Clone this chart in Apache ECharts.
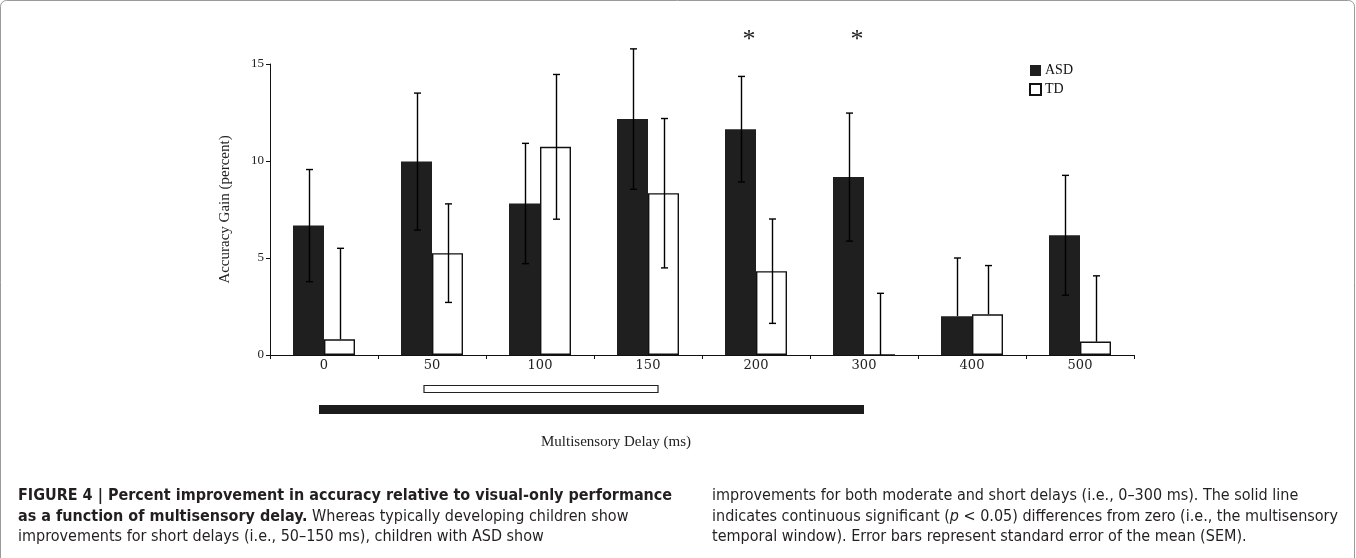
<!DOCTYPE html>
<html>
<head>
<meta charset="utf-8">
<script src="https://cdn.jsdelivr.net/npm/echarts@6/dist/echarts.min.js"></script>
<style>
html,body{margin:0;padding:0;background:#fff;}
#chart{width:1356px;height:558px;}
</style>
</head>
<body>
<div id="chart"></div>
<script>
// ---- data ----
const categories = ['0', '50', '100', '150', '200', '300', '400', '500'];
const asdValues = [6.67, 9.97, 7.81, 12.16, 11.64, 9.17, 2.0, 6.17];
const asdSem    = [2.89, 3.53, 3.10, 3.62, 2.72, 3.30, 3.00, 3.09];
const tdValues  = [0.81, 5.25, 10.73, 8.34, 4.32, 0, 2.10, 0.69];
const tdSem     = [4.69, 2.54, 3.73, 3.85, 2.69, 3.18, 2.51, 3.39];
const yTicks = [0, 5, 10, 15];
const starDelays = ['200', '300'];
const tdWindow = ['50', '150'];
const asdWindow = ['0', '300'];
const seriesNames = ['ASD', 'TD'];
const xAxisTitle = 'Multisensory Delay (ms)';
const yAxisTitle = 'Accuracy Gain (percent)';

const serif = "'Liberation Serif', 'Times New Roman', serif";
const cond = "'DejaVu Sans Condensed', 'Liberation Sans Narrow', 'Roboto Condensed', 'DejaVu Sans', sans-serif";
const BAR_W = 31;
const CAP_SIZE = 16;

function errRender(offset) {
  return function (params, api) {
    const idx = api.value(0), v = api.value(1), se = api.value(2);
    const top = api.coord([idx, v + se]);
    const hasLow = v - se >= 0;
    const bot = api.coord([idx, hasLow ? v - se : v]);
    const x = Math.round(top[0] + offset) + 0.5;
    const st = { stroke: '#000', lineWidth: 1.4 };
    const ch = [
      { type: 'line', shape: { x1: x, y1: top[1], x2: x, y2: bot[1] }, style: st },
      { type: 'line', shape: { x1: x - 3.5, y1: top[1], x2: x + 3.5, y2: top[1] }, style: st }
    ];
    if (hasLow) ch.push({ type: 'line', shape: { x1: x - 3.5, y1: bot[1], x2: x + 3.5, y2: bot[1] }, style: st });
    return { type: 'group', children: ch };
  };
}

function windowRender(params, api) {
  const a = api.coord([api.value(0), 0]);
  const b = api.coord([api.value(1), 0]);
  const hollow = api.value(2) === 1;
  if (hollow) {
    return { type: 'rect', shape: { x: a[0] - 8, y: a[1] + 30.5, width: b[0] - a[0] + 18, height: 7 },
      style: { fill: '#fff', stroke: '#222', lineWidth: 1.2 } };
  }
  return { type: 'rect', shape: { x: a[0] - 5, y: a[1] + 50, width: b[0] - a[0] + 5, height: 9 },
    style: { fill: '#1c1c1c' } };
}

function starRender(params, api) {
  const p = api.coord([api.value(0), yTicks[yTicks.length - 1]]);
  return { type: 'text', x: p[0] - 7, y: p[1] - 24, style: {
    text: '*', font: "26px 'Liberation Serif', serif", fill: '#222', align: 'center', verticalAlign: 'middle' } };
}

const chart = echarts.init(document.getElementById('chart'), null, { renderer: 'canvas' });

const richB = {
  b: { fontFamily: cond, fontSize: CAP_SIZE, fontWeight: 'bold', fill: '#231f20' },
  r: { fontFamily: cond, fontSize: CAP_SIZE, fill: '#231f20' },
  i: { fontFamily: cond, fontSize: CAP_SIZE, fontStyle: 'italic', fill: '#231f20' }
};
function cap(x, y, text, bold) {
  return { type: 'text', x: x, y: y, silent: true, style: {
    text: text, fill: '#231f20', fontFamily: cond, fontSize: CAP_SIZE,
    fontWeight: bold ? 'bold' : 'normal', verticalAlign: 'middle', align: 'left', rich: richB } };
}

chart.setOption({
  animation: false,
  grid: { left: 270, right: 222, top: 64, bottom: 203, containLabel: false },
  legend: {
    data: seriesNames, orient: 'vertical', left: 1029, top: 63.5, padding: 0,
    itemWidth: 11, itemHeight: 11, itemGap: 5, icon: 'rect',
    textStyle: { fontFamily: serif, fontSize: 14, color: '#111', lineHeight: 14, padding: [0, 0, 0, -1] }
  },
  xAxis: {
    type: 'category', data: categories,
    axisLine: { lineStyle: { color: '#111', width: 1 } },
    axisTick: { show: true, inside: false, length: 4, interval: 0, lineStyle: { color: '#111' } },
    axisLabel: { fontFamily: "'DejaVu Serif', serif", fontSize: 13, color: '#222', margin: 4 },
    splitLine: { show: false }
  },
  yAxis: {
    type: 'value', min: yTicks[0], max: yTicks[yTicks.length - 1], interval: yTicks[1] - yTicks[0],
    name: yAxisTitle, nameLocation: 'middle', nameGap: 37, nameRotate: 90,
    nameTextStyle: { fontFamily: serif, fontSize: 15, color: '#222' },
    axisLine: { show: true, lineStyle: { color: '#111', width: 1 } },
    axisTick: { show: true, length: 4, lineStyle: { color: '#111' } },
    axisLabel: { fontFamily: serif, fontSize: 13, color: '#222', margin: 6 },
    splitLine: { show: false }
  },
  series: [
    { name: seriesNames[0], type: 'bar', data: asdValues, barWidth: BAR_W, barGap: '0%',
      itemStyle: { color: '#1f1f1f' } },
    { name: seriesNames[1], type: 'bar', data: tdValues, barWidth: BAR_W, barGap: '0%',
      itemStyle: { color: '#fff', borderColor: '#111', borderWidth: 1.4 } },
    { name: 'asdErr', type: 'custom', renderItem: errRender(-BAR_W / 2), encode: { x: 0, y: 1 },
      data: categories.map((c, i) => [i, asdValues[i], asdSem[i]]), z: 5 },
    { name: 'tdErr', type: 'custom', renderItem: errRender(BAR_W / 2), encode: { x: 0, y: 1 },
      data: categories.map((c, i) => [i, tdValues[i], tdSem[i]]), z: 5 },
    { name: 'windows', type: 'custom', renderItem: windowRender, clip: false, encode: { x: 0 },
      data: [
        [categories.indexOf(tdWindow[0]), categories.indexOf(tdWindow[1]), 1],
        [categories.indexOf(asdWindow[0]), categories.indexOf(asdWindow[1]), 0]
      ] },
    { name: 'stars', type: 'custom', renderItem: starRender, clip: false, encode: { x: 0 },
      data: starDelays.map(c => [categories.indexOf(c)]) }
  ],
  graphic: [
    { type: 'rect', shape: { x: 0.5, y: 0.5, width: 1354, height: 620, r: 6 },
      style: { fill: 'none', stroke: '#9a9a9a', lineWidth: 1 }, silent: true },
    { type: 'text', x: 541, y: 442, style: { text: xAxisTitle, fontFamily: serif, fontSize: 15, fill: '#222', verticalAlign: 'middle' } },
    cap(18, 496, 'FIGURE 4 | Percent improvement in accuracy relative to visual-only performance', true),
    cap(18, 516.5, '{b|as a function of multisensory delay.}{r| Whereas typically developing children show}', false),
    cap(18, 537, 'improvements for short delays (i.e., 50–150 ms), children with ASD show', false),
    cap(712, 496, 'improvements for both moderate and short delays (i.e., 0–300 ms). The solid line', false),
    cap(712, 516.5, '{r|indicates continuous significant (}{i|p}{r| < 0.05) differences from zero (i.e., the multisensory}', false),
    cap(712, 537, 'temporal window). Error bars represent standard error of the mean (SEM).', false)
  ]
});
</script>
</body>
</html>
